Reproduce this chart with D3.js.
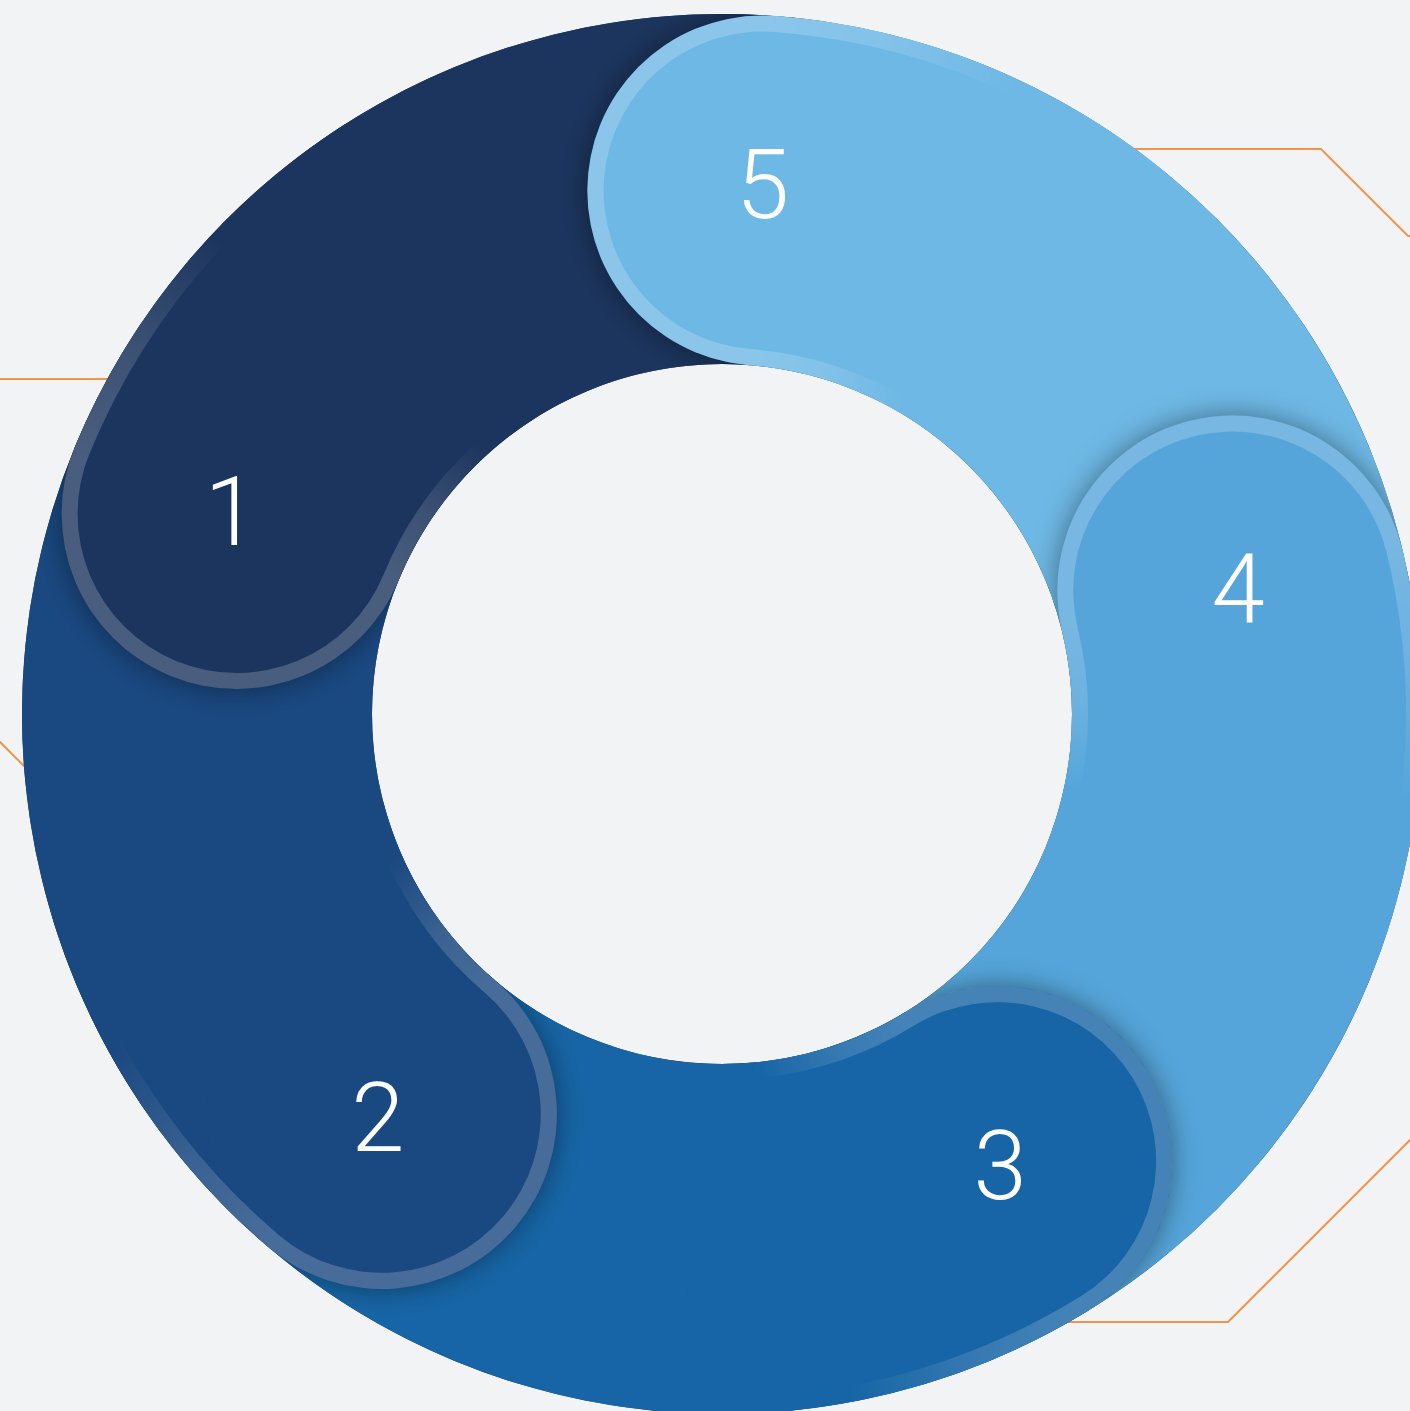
<!DOCTYPE html>
<html>
<head>
<meta charset="utf-8">
<script src="https://cdn.jsdelivr.net/npm/d3@7"></script>
<style>
  html, body { margin: 0; padding: 0; background: #f2f3f5; }
  svg { display: block; }
</style>
</head>
<body>
<svg id="chart" width="1410" height="1411"></svg>
<script>
// steps listed clockwise starting at the top
const STEPS = ['5', '4', '3', '2', '1'];
const SHARES = [20, 20, 20, 20, 20];
const COLORS = ['#6eb8e5', '#55a5da', '#1765a6', '#1a4880', '#1c355e'];
const START_DEG = 4.4;

// decorative orange frame behind the ring
const FRAME_LINES = [
    [[1000, 149], [1321, 149], [1408, 236], [1420, 236]],
    [[1000, 1322], [1228, 1322], [1420, 1130]],
    [[-10, 379], [200, 379]],
    [[-30, 712], [80, 822]]
];

const cx = 722, cy = 714;
const R_OUT = 700, R_IN = 350;
const R_MID = (R_OUT + R_IN) / 2;
const HEAD_R = (R_OUT - R_IN) / 2;
const RIM = 16;
const RIM_ALPHA = 0.2;
const OUT_EXT = 21 * Math.PI / 180;
const IN_EXT = 26 * Math.PI / 180;
const COVER = 35 * Math.PI / 180;

const svg = d3.select('#chart');
const defs = svg.append('defs');

svg.append('rect')
    .attr('width', 1410)
    .attr('height', 1411)
    .attr('fill', '#f2f3f5');

svg.append('g')
    .selectAll('path')
    .data(FRAME_LINES)
    .join('path')
    .attr('d', d3.line())
    .attr('fill', 'none')
    .attr('stroke', '#f0954e')
    .attr('stroke-width', 2);

const polar = (r, a) => [r * Math.sin(a), -r * Math.cos(a)];
const ringArc = d3.arc().innerRadius(R_IN).outerRadius(R_OUT);
const arc = d3.arc();
const full = { startAngle: 0, endAngle: 2 * Math.PI };

defs.append('filter')
    .attr('id', 'soft')
    .attr('x', '-50%').attr('y', '-50%')
    .attr('width', '200%').attr('height', '200%')
    .append('feGaussianBlur')
    .attr('stdDeviation', 14);

defs.append('clipPath')
    .attr('id', 'ring-clip')
    .append('path')
    .attr('d', ringArc(full));

const start = START_DEG * Math.PI / 180;
const pie = d3.pie().sort(null).startAngle(start).endAngle(start + 2 * Math.PI);
const slices = pie(SHARES).map((d, i) => ({ ...d, step: STEPS[i], color: COLORS[i], id: i }));

const g = svg.append('g').attr('transform', `translate(${cx},${cy})`);

// base ring + bodies
g.append('path').attr('d', ringArc(full)).attr('fill', COLORS[4]);

g.append('g')
    .selectAll('path')
    .data(slices)
    .join('path')
    .attr('d', ringArc)
    .attr('fill', (d) => d.color);

// head shadows, kept inside the ring
g.append('g')
    .attr('clip-path', 'url(#ring-clip)')
    .selectAll('circle')
    .data(slices)
    .join('circle')
    .attr('cx', (d) => polar(R_MID, d.startAngle)[0])
    .attr('cy', (d) => polar(R_MID, d.startAngle)[1])
    .attr('r', HEAD_R)
    .attr('fill', '#000')
    .attr('fill-opacity', 0.42)
    .attr('filter', 'url(#soft)');

// fading rim gradients along the ring edges
slices.forEach((d) => {
    [['out', R_OUT - RIM / 2, OUT_EXT], ['in', R_IN + RIM / 2, IN_EXT]].forEach(([k, r, ext]) => {
        const [x1, y1] = polar(r, d.startAngle);
        const [x2, y2] = polar(r, d.startAngle + ext);
        const grad = defs.append('linearGradient')
            .attr('id', `rim-${k}-${d.id}`)
            .attr('gradientUnits', 'userSpaceOnUse')
            .attr('x1', x1).attr('y1', y1)
            .attr('x2', x2).attr('y2', y2);
        grad.append('stop').attr('offset', 0).attr('stop-color', '#fff').attr('stop-opacity', RIM_ALPHA);
        grad.append('stop').attr('offset', 0.45).attr('stop-color', '#fff').attr('stop-opacity', RIM_ALPHA * 0.7);
        grad.append('stop').attr('offset', 1).attr('stop-color', '#fff').attr('stop-opacity', 0);
    });
});

const heads = g.append('g')
    .selectAll('g')
    .data(slices)
    .join('g');

heads.append('path')
    .attr('d', (d) => ringArc({ startAngle: d.startAngle, endAngle: d.startAngle + COVER }))
    .attr('fill', (d) => d.color);

heads.append('circle')
    .attr('cx', (d) => polar(R_MID, d.startAngle)[0])
    .attr('cy', (d) => polar(R_MID, d.startAngle)[1])
    .attr('r', HEAD_R)
    .attr('fill', (d) => d.color);

// rim around the head (tail side)
heads.append('path')
    .attr('transform', (d) => `translate(${polar(R_MID, d.startAngle)})`)
    .attr('d', (d) => arc({
        innerRadius: HEAD_R - RIM,
        outerRadius: HEAD_R,
        startAngle: d.startAngle - Math.PI,
        endAngle: d.startAngle
    }))
    .attr('fill', '#fff')
    .attr('fill-opacity', RIM_ALPHA);

heads.append('path')
    .attr('d', (d) => arc({
        innerRadius: R_OUT - RIM,
        outerRadius: R_OUT,
        startAngle: d.startAngle,
        endAngle: d.startAngle + OUT_EXT
    }))
    .attr('fill', (d) => `url(#rim-out-${d.id})`);

heads.append('path')
    .attr('d', (d) => arc({
        innerRadius: R_IN,
        outerRadius: R_IN + RIM,
        startAngle: d.startAngle,
        endAngle: d.startAngle + IN_EXT
    }))
    .attr('fill', (d) => `url(#rim-in-${d.id})`);

heads.append('text')
    .attr('x', (d) => polar(R_MID + 6, d.startAngle)[0])
    .attr('y', (d) => polar(R_MID + 6, d.startAngle)[1])
    .attr('text-anchor', 'middle')
    .attr('dominant-baseline', 'central')
    .attr('fill', '#fff')
    .attr('font-family', 'Roboto, "Open Sans", sans-serif')
    .attr('font-weight', 300)
    .attr('font-size', 96)
    .text((d) => d.step);
</script>
</body>
</html>
